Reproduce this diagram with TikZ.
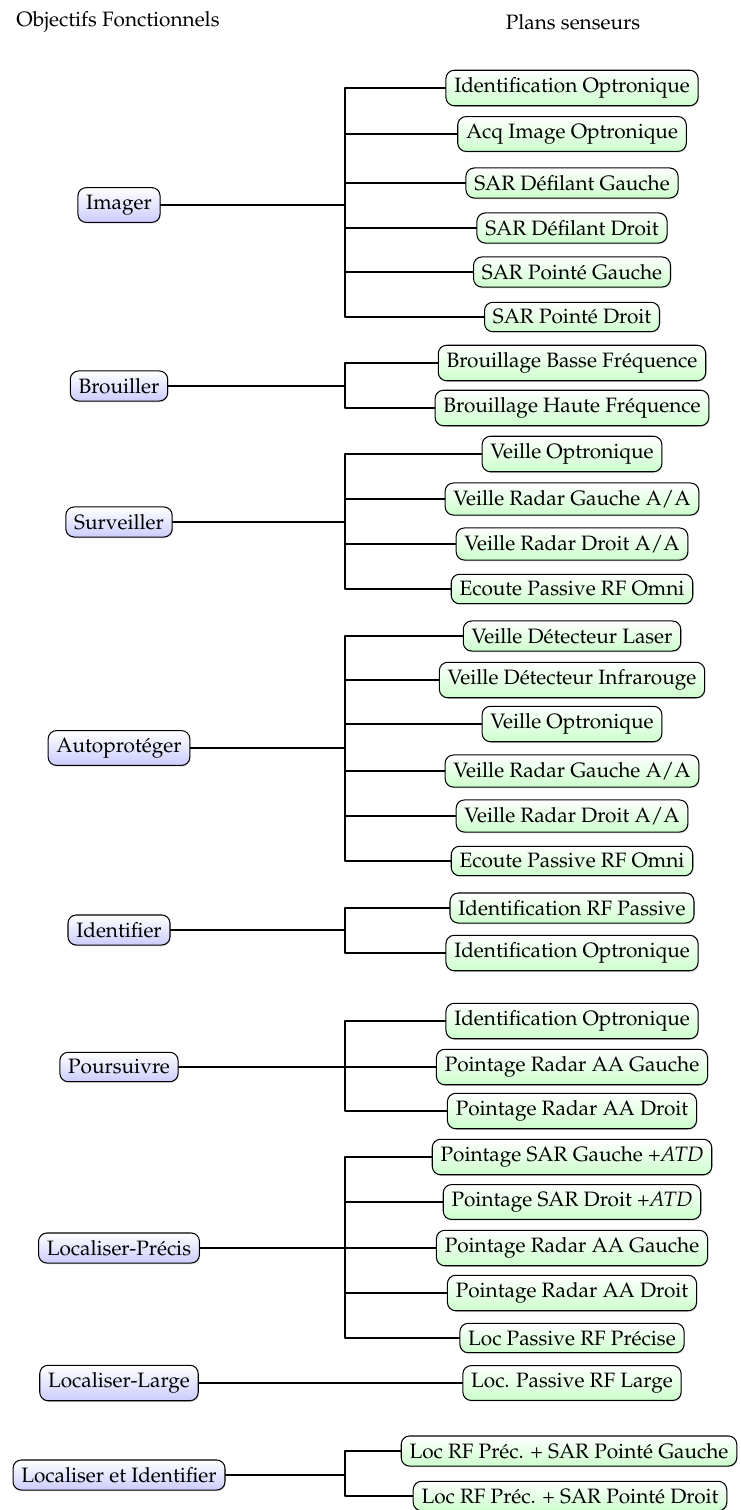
\documentclass[tikz,border=0pt]{standalone}
\usepackage[T1]{fontenc}
\usepackage{mathpazo}
\usetikzlibrary{shadows}

\begin{document}
\begin{tikzpicture}[x=0.4808pt,y=-0.4808pt,line cap=round,line join=round,
  every node/.style={font=\normalsize},
  wire/.style={line width=0.5pt},
  box/.style={draw,rounded corners=4pt,line width=0.5pt,
    inner xsep=4pt,inner ysep=3.5pt,
    drop shadow={opacity=0.25,shadow xshift=0.4pt,shadow yshift=-0.6pt}},
  goal/.style={box,top color=white,bottom color=blue!20},
  plan/.style={box,top color=white,bottom color=green!20}]
  \useasboundingbox (0,0) rectangle (740,1510);
  % ---- headers -----------------------------------------------------------
  \node (hGoal) at (118,22) {Objectifs Fonctionnels};
  \node (hPlan) at (573,22) {Plans senseurs};
  % ---- Imager ------------------------------------------------------------
  \node[goal] (gImager) at (119,205) {Imager};
  \coordinate (bImager) at (345,205);
  \node[plan] (pImagerA) at (572,88) {Identification Optronique};
  \node[plan] (pImagerB) at (572,134) {Acq Image Optronique};
  \node[plan] (pImagerC) at (572,183) {SAR D\'efilant Gauche};
  \node[plan] (pImagerD) at (572,228) {SAR D\'efilant Droit};
  \node[plan] (pImagerE) at (572,272) {SAR Point\'e Gauche};
  \node[plan] (pImagerF) at (572,317) {SAR Point\'e Droit};
  \draw[wire] (gImager.east) -- (bImager)
    (bImager) |- (pImagerA.west) (bImager) |- (pImagerB.west)
    (bImager) |- (pImagerC.west) (bImager) |- (pImagerD.west)
    (bImager) |- (pImagerE.west) (bImager) |- (pImagerF.west);
  % ---- Brouiller ---------------------------------------------------------
  \node[goal] (gBrouiller) at (119,386) {Brouiller};
  \coordinate (bBrouiller) at (345,386);
  \node[plan] (pBrouillerA) at (572,363) {Brouillage Basse Fr\'equence};
  \node[plan] (pBrouillerB) at (572,408) {Brouillage Haute Fr\'equence};
  \draw[wire] (gBrouiller.east) -- (bBrouiller)
    (bBrouiller) |- (pBrouillerA.west) (bBrouiller) |- (pBrouillerB.west);
  % ---- Surveiller --------------------------------------------------------
  \node[goal] (gSurveiller) at (119,522) {Surveiller};
  \coordinate (bSurveiller) at (345,522);
  \node[plan] (pSurveillerA) at (572,454) {Veille Optronique};
  \node[plan] (pSurveillerB) at (572,499) {Veille Radar Gauche A/A};
  \node[plan] (pSurveillerC) at (572,544) {Veille Radar Droit A/A};
  \node[plan] (pSurveillerD) at (572,589) {Ecoute Passive RF Omni};
  \draw[wire] (gSurveiller.east) -- (bSurveiller)
    (bSurveiller) |- (pSurveillerA.west) (bSurveiller) |- (pSurveillerB.west)
    (bSurveiller) |- (pSurveillerC.west) (bSurveiller) |- (pSurveillerD.west);
  % ---- Autoproteger ------------------------------------------------------
  \node[goal] (gAutoprot) at (119,748) {Autoprot\'eger};
  \coordinate (bAutoprot) at (345,748);
  \node[plan] (pAutoprotA) at (572,636) {Veille D\'etecteur Laser};
  \node[plan] (pAutoprotB) at (572,680) {Veille D\'etecteur Infrarouge};
  \node[plan] (pAutoprotC) at (572,724) {Veille Optronique};
  \node[plan] (pAutoprotD) at (572,771) {Veille Radar Gauche A/A};
  \node[plan] (pAutoprotE) at (572,816) {Veille Radar Droit A/A};
  \node[plan] (pAutoprotF) at (572,861) {Ecoute Passive RF Omni};
  \draw[wire] (gAutoprot.east) -- (bAutoprot)
    (bAutoprot) |- (pAutoprotA.west) (bAutoprot) |- (pAutoprotB.west)
    (bAutoprot) |- (pAutoprotC.west) (bAutoprot) |- (pAutoprotD.west)
    (bAutoprot) |- (pAutoprotE.west) (bAutoprot) |- (pAutoprotF.west);
  % ---- Identifier --------------------------------------------------------
  \node[goal] (gIdentifier) at (119,930) {Identifier};
  \coordinate (bIdentifier) at (345,930);
  \node[plan] (pIdentifierA) at (572,908) {Identification RF Passive};
  \node[plan] (pIdentifierB) at (572,953) {Identification Optronique};
  \draw[wire] (gIdentifier.east) -- (bIdentifier)
    (bIdentifier) |- (pIdentifierA.west) (bIdentifier) |- (pIdentifierB.west);
  % ---- Poursuivre --------------------------------------------------------
  \node[goal] (gPoursuivre) at (119,1067) {Poursuivre};
  \coordinate (bPoursuivre) at (345,1067);
  \node[plan] (pPoursuivreA) at (572,1021) {Identification Optronique};
  \node[plan] (pPoursuivreB) at (572,1067) {Pointage Radar AA Gauche};
  \node[plan] (pPoursuivreC) at (572,1111) {Pointage Radar AA Droit};
  \draw[wire] (gPoursuivre.east) -- (bPoursuivre)
    (bPoursuivre) |- (pPoursuivreA.west) (bPoursuivre) |- (pPoursuivreB.west)
    (bPoursuivre) |- (pPoursuivreC.west);
  % ---- Localiser-Precis --------------------------------------------------
  \node[goal] (gLocPrecis) at (119,1248) {Localiser-Pr\'ecis};
  \coordinate (bLocPrecis) at (345,1248);
  \node[plan] (pLocPrecisA) at (572,1157) {Pointage SAR Gauche +\textit{ATD}};
  \node[plan] (pLocPrecisB) at (572,1202) {Pointage SAR Droit +\textit{ATD}};
  \node[plan] (pLocPrecisC) at (572,1248) {Pointage Radar AA Gauche};
  \node[plan] (pLocPrecisD) at (572,1293) {Pointage Radar AA Droit};
  \node[plan] (pLocPrecisE) at (572,1338) {Loc Passive RF Pr\'ecise};
  \draw[wire] (gLocPrecis.east) -- (bLocPrecis)
    (bLocPrecis) |- (pLocPrecisA.west) (bLocPrecis) |- (pLocPrecisB.west)
    (bLocPrecis) |- (pLocPrecisC.west) (bLocPrecis) |- (pLocPrecisD.west)
    (bLocPrecis) |- (pLocPrecisE.west);
  % ---- Localiser-Large ---------------------------------------------------
  \node[goal] (gLocLarge) at (119,1383) {Localiser-Large};
  \node[plan] (pLocLargeA) at (572,1383) {Loc. Passive RF Large};
  \draw[wire] (gLocLarge.east) -- (pLocLargeA.west);
  % ---- Localiser et Identifier -------------------------------------------
  \node[goal] (gLocIdent) at (119,1475) {Localiser et Identifier};
  \coordinate (bLocIdent) at (345,1475);
  \node[plan] (pLocIdentA) at (569,1451) {Loc RF Pr\'ec. + SAR Point\'e Gauche};
  \node[plan] (pLocIdentB) at (570,1496) {Loc RF Pr\'ec. + SAR Point\'e Droit};
  \draw[wire] (gLocIdent.east) -- (bLocIdent)
    (bLocIdent) |- (pLocIdentA.west) (bLocIdent) |- (pLocIdentB.west);
\end{tikzpicture}
\end{document}
